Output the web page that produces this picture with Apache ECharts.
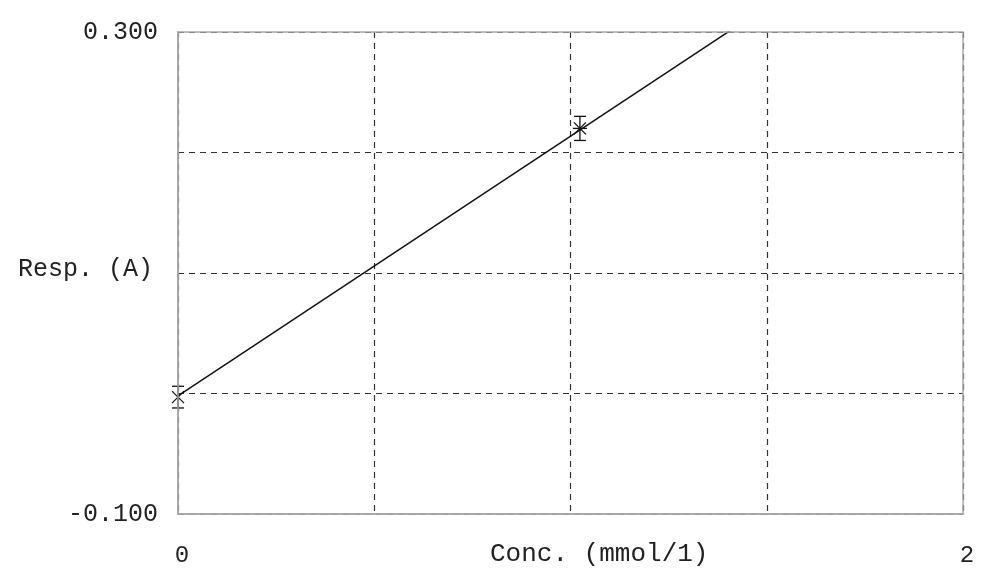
<!DOCTYPE html>
<html>
<head>
<meta charset="utf-8">
<script src="https://cdn.jsdelivr.net/npm/echarts@6/dist/echarts.min.js"></script>
<style>
  html, body { margin: 0; padding: 0; background: #fff; }
  #chart { width: 986px; height: 574px; }
</style>
</head>
<body>
<div id="chart"></div>
<script>
// calibration points: concentration, mean response, error (+/-), marker type
var conc = [0, 1.024];
var resp = [-0.003, 0.220];
var errs = [0.009, 0.010];
var marks = ['x', 'star'];

// fitted line endpoints (clipped by the axis)
var fitX = [0, 2];
var fitY = [-0.002, 0.429];

var FONT = 'Liberation Mono, Courier New, monospace';

var chart = echarts.init(document.getElementById('chart'));

var option = {
    backgroundColor: '#fff',
    animation: false,
    grid: { left: 178, right: 23, top: 32, bottom: 60 },
    xAxis: {
        type: 'value', min: 0, max: 2, interval: 0.5,
        axisLine: { show: true, onZero: false, lineStyle: { color: '#9a9a9a', width: 1.5 } },
        axisTick: { show: false },
        axisLabel: {
            margin: 30, color: '#222', fontFamily: FONT, fontSize: 24,
            padding: [0, 0, 0, 8],
            formatter: function (v) { return (v === 0 || v === 2) ? String(v) : ''; }
        },
        splitLine: { show: true, lineStyle: { color: '#333', type: [6, 5], width: 1.2 } }
    },
    yAxis: {
        type: 'value', min: -0.1, max: 0.3, interval: 0.1,
        axisLine: { show: true, onZero: false, lineStyle: { color: '#9a9a9a', width: 1.5 } },
        axisTick: { show: false },
        axisLabel: {
            margin: 20, color: '#222', fontFamily: FONT, fontSize: 25,
            formatter: function (v) {
                if (Math.abs(v - 0.3) < 1e-6) return '0.300';
                if (Math.abs(v + 0.1) < 1e-6) return '-0.100';
                return '';
            }
        },
        splitLine: { show: true, lineStyle: { color: '#333', type: [6, 5], width: 1.2 } }
    },
    graphic: [
        { type: 'rect', shape: { x: 178, y: 32, width: 785, height: 482 }, style: { fill: null, stroke: '#a8a8a8', lineWidth: 1.5 }, z: 10 },
        { type: 'text', left: 18, top: 257, style: { text: 'Resp. (A)', font: '25px ' + FONT, fill: '#222' } },
        { type: 'text', left: 490, top: 541, style: { text: 'Conc. (mmol/1)', font: '26px ' + FONT, fill: '#222' } }
    ],
    series: [
        {
            type: 'line',
            data: fitX.map(function (x, i) { return [x, fitY[i]]; }),
            symbol: 'none',
            clip: true,
            lineStyle: { color: '#111', width: 1.5 },
            z: 5
        },
        {
            type: 'custom',
            clip: false,
            z: 6,
            data: conc.map(function (x, i) { return [x, resp[i], errs[i], i]; }),
            renderItem: function (params, api) {
                var x = api.value(0), y = api.value(1), e = api.value(2);
                var c = api.coord([x, y]);
                var hi = api.coord([x, y + e]);
                var lo = api.coord([x, y - e]);
                var cap = 6, s = 6;
                var st = { stroke: '#111', lineWidth: 1.3, fill: null };
                var kids = [
                    { type: 'line', shape: { x1: c[0], y1: hi[1], x2: c[0], y2: lo[1] }, style: st },
                    { type: 'line', shape: { x1: c[0] - cap, y1: hi[1], x2: c[0] + cap, y2: hi[1] }, style: st },
                    { type: 'line', shape: { x1: c[0] - cap, y1: lo[1], x2: c[0] + cap, y2: lo[1] }, style: st },
                    { type: 'line', shape: { x1: c[0] - s, y1: c[1] - s, x2: c[0] + s, y2: c[1] + s }, style: st },
                    { type: 'line', shape: { x1: c[0] - s, y1: c[1] + s, x2: c[0] + s, y2: c[1] - s }, style: st }
                ];
                if (marks[api.value(3)] === 'star') {
                    kids.push({ type: 'line', shape: { x1: c[0] - s - 1, y1: c[1], x2: c[0] + s + 1, y2: c[1] }, style: st });
                }
                return { type: 'group', children: kids };
            }
        }
    ]
};

chart.setOption(option);
</script>
</body>
</html>
